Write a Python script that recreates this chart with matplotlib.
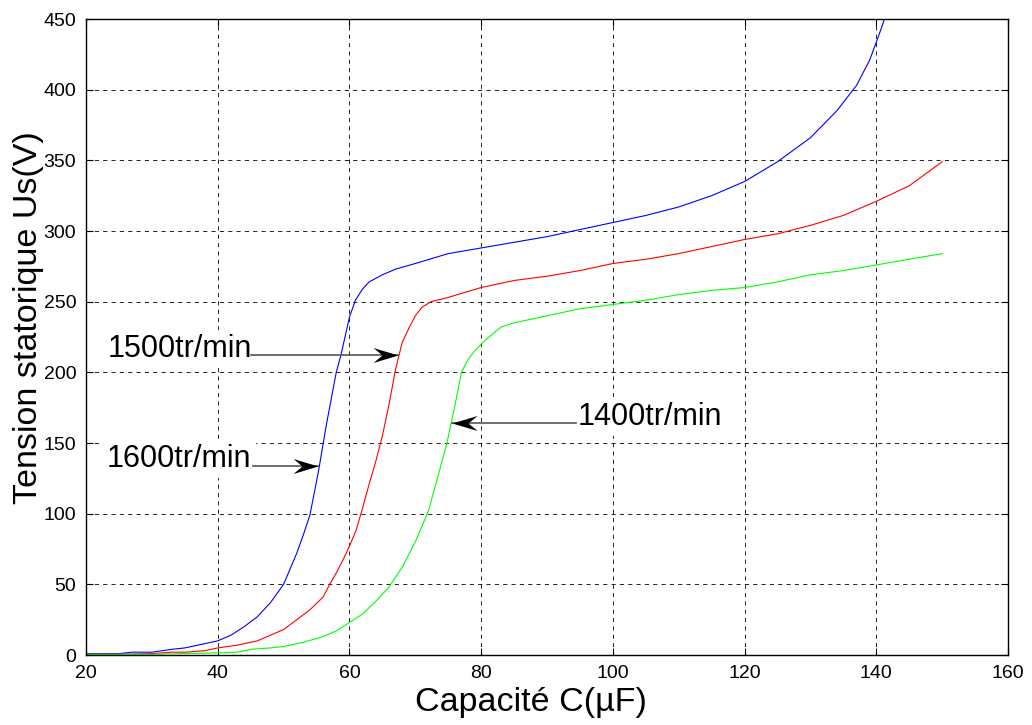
import matplotlib
matplotlib.use("Agg")
import matplotlib.pyplot as plt
from matplotlib.path import Path

plt.rcParams['font.family'] = ['Liberation Sans', 'DejaVu Sans']

# capacité (µF) / tension statorique (V)
c_1600 = [20, 25, 27, 30, 33, 35, 38, 40, 42, 44, 46, 48, 50, 52, 53, 54, 55.3, 56.5, 58, 58.7,
          60, 60.9, 62, 63, 65, 67, 70, 75, 80, 85, 90, 95, 100, 105, 110, 115, 120, 125,
          130, 134, 137, 139, 140.5, 142]
u_1600 = [1, 1, 2, 2, 4, 5, 8, 10, 14, 20, 27, 37, 50, 72, 85, 99, 130, 163, 200, 212,
          239, 251, 259, 264, 269, 273, 277, 284, 288, 292, 296, 301, 306, 311, 317, 325, 335, 349,
          366, 385, 403, 421, 440, 460]

c_1500 = [20, 25, 30, 33, 35, 38, 40, 43, 46, 48, 50, 52, 54, 56, 57, 58, 59, 60, 61, 62,
          63, 64, 65, 66, 67, 68, 69, 70, 71, 72.4, 75, 80, 85, 90, 95, 100, 105, 110, 115,
          120, 125, 130, 135, 140, 145, 150]
u_1500 = [0.5, 0.5, 1, 2, 2, 3, 5, 7, 10, 14, 18, 25, 32, 41, 50, 58, 67, 77, 88, 104,
          121, 137, 155, 177, 202, 221, 231, 240, 246, 250, 253, 260, 265, 268, 272, 277, 280, 284, 289,
          294, 298, 304, 311, 321, 332, 349]

c_1400 = [20, 30, 35, 40, 43, 45, 48, 50, 53, 56, 58, 60, 62, 64, 66, 68, 70, 72, 73.3, 74.8,
          76, 77, 78, 79, 80, 81.2, 83, 85, 88, 90, 95, 100, 105, 110, 115, 120, 125, 130,
          135, 140, 145, 150]
u_1400 = [0.5, 0.5, 1, 1.5, 2, 4, 5, 6, 9, 13, 17, 23, 29, 38, 48, 62, 80, 102, 124, 150,
          176, 200, 209, 215, 220, 225, 232, 235, 238, 240, 245, 248, 251, 255, 258, 260, 264, 269,
          272, 276, 280, 284]

# annotations: label, text position, arrow start, arrow tip
labels = ['1500tr/min', '1600tr/min', '1400tr/min']
text_xy = [(23.3, 211), (23.2, 133), (94.7, 163)]
tail_xy = [(45.0, 212.3), (45.4, 133.8), (94.4, 164.4)]
tip_xy = [(67.3, 212.3), (55.3, 133.8), (75.5, 164.4)]

xticks = list(range(20, 161, 20))
yticks = list(range(0, 451, 50))

fig = plt.figure(figsize=(10.32, 7.25), dpi=100)
ax = fig.add_axes([86 / 1032, 1 - 655 / 725, 922 / 1032, 636 / 725])

ax.plot(c_1600, u_1600, color=(0, 0, 1), lw=0.8)
ax.plot(c_1500, u_1500, color=(1, 0, 0), lw=0.8)
ax.plot(c_1400, u_1400, color=(0, 1, 0), lw=0.8)

ax.set_xlim(20, 160)
ax.set_ylim(0, 450)
ax.set_xticks(xticks)
ax.set_yticks(yticks)
ax.grid(True, color='black', linestyle=(0, (5, 5)), lw=0.6)
ax.tick_params(direction='in', length=5, width=0.8, top=True, right=True,
               labelsize=14, pad=7)
for s in ax.spines.values():
    s.set_linewidth(1.0)

ax.set_xlabel('Capacité C(µF)', fontsize=24.5)
ax.set_ylabel('Tension statorique Us(V)', fontsize=24.5)
ax.xaxis.set_label_coords(0.4826, -0.05)
ax.yaxis.set_label_coords(-0.046, 0.531)

# MATLAB-style arrow head (concave back), tip at origin
head = Path([(0, 0), (-1, 0.3), (-0.64, 0), (-1, -0.3), (0, 0)],
            [Path.MOVETO, Path.LINETO, Path.LINETO, Path.LINETO, Path.CLOSEPOLY])
head_left = Path([(0, 0), (1, 0.3), (0.64, 0), (1, -0.3), (0, 0)],
                 [Path.MOVETO, Path.LINETO, Path.LINETO, Path.LINETO, Path.CLOSEPOLY])

for lab, txy, a0, a1 in zip(labels, text_xy, tail_xy, tip_xy):
    ax.text(txy[0], txy[1], lab, fontsize=22, ha='left', va='baseline',
            bbox=dict(fc='white', ec='none', pad=3), zorder=4)
    ax.plot([a0[0], a1[0]], [a0[1], a1[1]], color='#555555', lw=1.2, zorder=5)
    mk = head if a1[0] > a0[0] else head_left
    ax.plot([a1[0]], [a1[1]], marker=mk, markersize=36, color='black', mew=0, zorder=6)

fig.savefig('out.png', dpi=100)
